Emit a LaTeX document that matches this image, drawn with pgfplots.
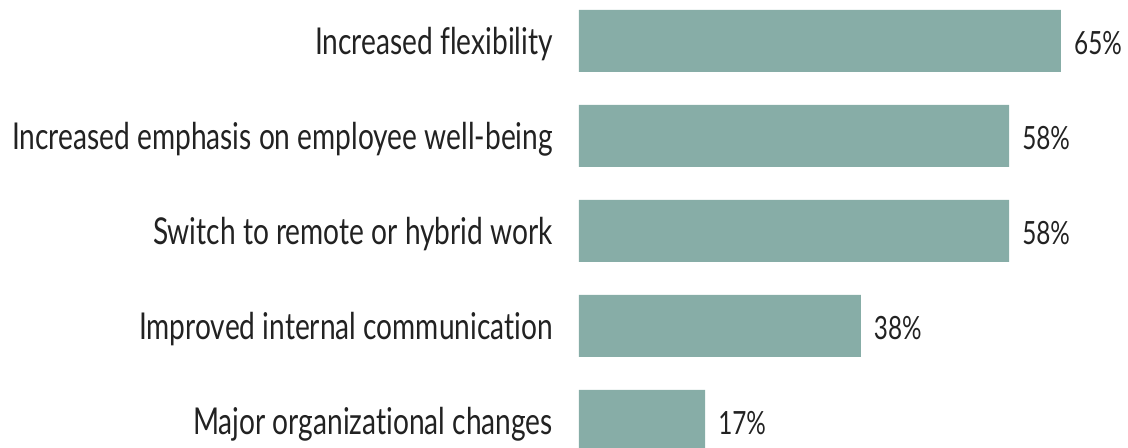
\documentclass[border=0pt]{standalone}
\usepackage{fontspec}
\setmainfont[FakeStretch=0.76, RawFeature={-liga}]{Lato}
\usepackage{pgfplots}
\pgfplotsset{compat=1.18}
\definecolor{barc}{RGB}{135,173,167}
\definecolor{txt}{RGB}{34,34,34}
\begin{document}
\begin{tikzpicture}
\begin{axis}[
  xbar,
  scale only axis,
  width=549pt, height=447pt,
  xmin=0, xmax=74.04,
  ymin=-0.4316, ymax=4.274,
  y dir=reverse,
  bar width=62pt,
  axis line style={draw=none},
  major tick length=0pt,
  xtick=\empty,
  ytick={0,1,2,3,4},
  yticklabels={Increased flexibility,Increased emphasis on employee well-being,Switch to remote or hybrid work,Improved internal communication,Major organizational changes},
  yticklabel style={font=\fontsize{37}{42}\selectfont, text=txt, inner sep=0pt, xshift=-26pt, yshift=-3pt},
  /pgf/number format/assume math mode=true,
  nodes near coords={\pgfmathprintnumber{\pgfplotspointmeta}\%},
  every node near coord/.append style={font=\fontsize{32}{36}\selectfont, text=txt, anchor=west, inner sep=0pt, xshift=13pt, yshift=-2pt},
  clip=true,
]
\addplot[fill=barc, draw=none] coordinates {(65,0) (58,1) (58,2) (38,3) (17,4)};
\end{axis}
\pgfresetboundingbox
\path (current axis.south west) ++(-579pt,0) rectangle (current axis.north east);
\end{tikzpicture}
\end{document}
